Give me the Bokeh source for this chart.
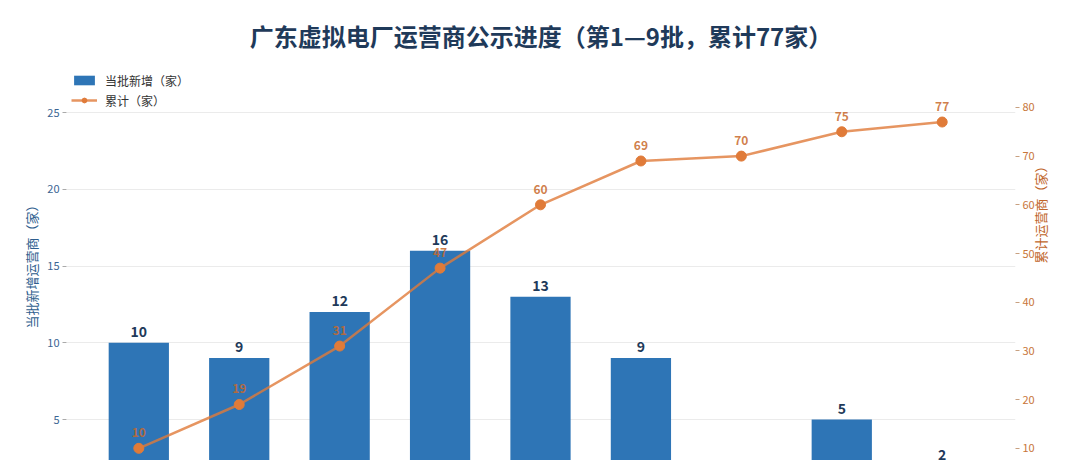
import math
from bokeh.plotting import figure
from bokeh.models import Range1d, LinearAxis, Legend, LegendItem, ColumnDataSource, FixedTicker
from bokeh.core.properties import value
from bokeh.embed import file_html
from bokeh.resources import INLINE

batches = ["第1批", "第2批", "第3批", "第4批", "第5批", "第6批", "第7批", "第8批", "第9批"]
new_counts = [10, 9, 12, 16, 13, 9, 1, 5, 2]
cumulative = [10, 19, 31, 47, 60, 69, 70, 75, 77]
left_ticks = [5, 10, 15, 20, 25]
right_ticks = [10, 20, 30, 40, 50, 60, 70, 80]

FONT = "Noto Sans CJK SC"
BAR = "#2E75B6"
ORANGE = "#E07B39"
ORANGE_TXT = "#C8692C"
NAVY = "#1F3A5A"

xs = list(range(len(batches)))
src = ColumnDataSource(dict(
    x=xs, n=new_counts, c=cumulative,
    nl=[str(v) for v in new_counts], cl=[str(v) for v in cumulative],
))

p = figure(width=1080, height=460, output_backend="svg", toolbar_location=None,
           x_range=Range1d(-0.72, 8.73), y_range=Range1d(2.33, 28),
           min_border_left=66, min_border_right=65, min_border_bottom=0, min_border_top=66)
p.extra_y_ranges = {"cum": Range1d(7.5, 88.4)}

p.title.text = "广东虚拟电厂运营商公示进度（第1—9批，累计77家）"
p.title.align = "center"
p.title.text_font = FONT
p.title.text_font_size = "24px"
p.title.text_font_style = "bold"
p.title.text_color = NAVY
p.title.standoff = 28

p.outline_line_color = None
p.xaxis.visible = False
p.xgrid.grid_line_color = None
p.ygrid.grid_line_color = "#EBEBEB"
p.ygrid.ticker = FixedTicker(ticks=left_ticks)

ax = p.yaxis[0]
ax.ticker = FixedTicker(ticks=left_ticks)
ax.axis_line_color = None
ax.minor_tick_line_color = None
ax.major_tick_line_color = "#AAAAAA"
ax.major_tick_in = 0
ax.major_tick_out = 4
ax.major_label_standoff = 3
ax.major_label_text_font = FONT
ax.major_label_text_font_size = "11px"
ax.major_label_text_color = "#3B6593"
ax.axis_label = "当批新增运营商（家）"
ax.axis_label_text_font = FONT
ax.axis_label_text_font_size = "13px"
ax.axis_label_text_font_style = "normal"
ax.axis_label_text_color = "#2E5E8E"
ax.axis_label_standoff = 3

rax = LinearAxis(y_range_name="cum", ticker=FixedTicker(ticks=right_ticks))
rax.axis_line_color = None
rax.minor_tick_line_color = None
rax.major_tick_line_color = "#C8A080"
rax.major_tick_in = 0
rax.major_tick_out = 4
rax.major_label_standoff = 3
rax.major_label_text_font = FONT
rax.major_label_text_font_size = "11px"
rax.major_label_text_color = "#C8763A"
rax.axis_label = "累计运营商（家）"
rax.axis_label_text_font = FONT
rax.axis_label_text_font_size = "13px"
rax.axis_label_text_font_style = "normal"
rax.axis_label_text_color = "#C0652A"
rax.axis_label_standoff = 3
rax.axis_label_orientation = math.pi / 2
p.add_layout(rax, "right")

bars = p.vbar(x="x", top="n", width=0.6, bottom=0, source=src, fill_color=BAR, line_color=None)
p.text(x="x", y="n", text="nl", source=src, text_align="center", text_baseline="bottom",
       y_offset=-6, text_font=value(FONT), text_font_size="14px", text_font_style="bold",
       text_color=NAVY)

line = p.line(x="x", y="c", source=src, y_range_name="cum", line_color=ORANGE,
              line_width=2.5, line_alpha=0.8)
pts = p.scatter(x="x", y="c", source=src, y_range_name="cum", size=10,
                fill_color=ORANGE, line_color=ORANGE)
p.text(x="x", y="c", text="cl", source=src, y_range_name="cum", text_align="center",
       text_baseline="bottom", y_offset=-11, text_font=value(FONT), text_font_size="12px",
       text_font_style="bold", text_color=ORANGE_TXT, text_alpha=0.85)

legend = Legend(items=[LegendItem(label="当批新增（家）", renderers=[bars]),
                       LegendItem(label="累计（家）", renderers=[line, pts])],
                location="top_left", orientation="vertical")
legend.background_fill_alpha = 0
legend.border_line_color = None
legend.label_text_font = FONT
legend.label_text_font_size = "12px"
legend.label_text_color = "#333333"
legend.glyph_width = 26
legend.glyph_height = 12
legend.label_height = 18
legend.spacing = 2
legend.padding = 4
legend.margin = 5
legend.label_standoff = 8
p.add_layout(legend)

open("out.html", "w").write(file_html(p, INLINE))
